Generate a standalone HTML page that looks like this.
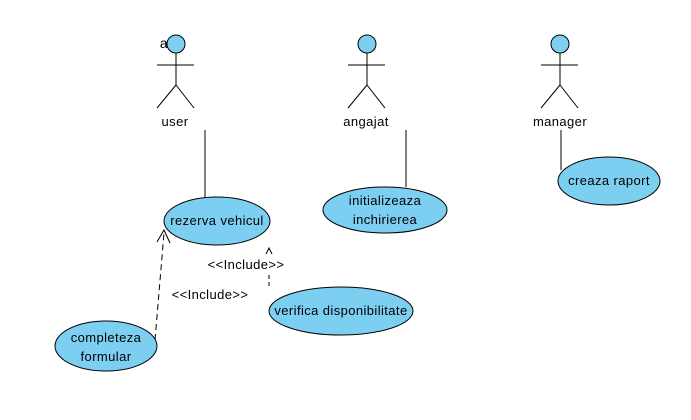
<!DOCTYPE html><html><head><style>body{margin:0;background:#fff}</style></head><body>
<svg width="691" height="415" xmlns="http://www.w3.org/2000/svg" font-family="Liberation Sans, sans-serif" font-size="13" letter-spacing="0.4">
<rect width="691" height="415" fill="#fff"/>
<g stroke="#000" stroke-width="1" fill="none">
<g transform="translate(176,0)"><line x1="0" y1="53" x2="0" y2="85"/><line x1="-19" y1="65" x2="18" y2="65"/><line x1="0" y1="85" x2="-19" y2="108"/><line x1="0" y1="85" x2="18" y2="108"/></g>
<g transform="translate(367,0)"><line x1="0" y1="53" x2="0" y2="85"/><line x1="-19" y1="65" x2="18" y2="65"/><line x1="0" y1="85" x2="-19" y2="108"/><line x1="0" y1="85" x2="18" y2="108"/></g>
<g transform="translate(560,0)"><line x1="0" y1="53" x2="0" y2="85"/><line x1="-19" y1="65" x2="18" y2="65"/><line x1="0" y1="85" x2="-19" y2="108"/><line x1="0" y1="85" x2="18" y2="108"/></g>
<line x1="205" y1="130" x2="205" y2="198"/>
<line x1="406" y1="130" x2="406" y2="187"/>
<line x1="561" y1="130" x2="561" y2="170"/>
<line x1="155" y1="340" x2="164" y2="233" stroke-dasharray="6,4"/>
<polyline points="157,242 164,230 170,243"/>
<line x1="269" y1="275" x2="269" y2="286" stroke-dasharray="4,3"/>
<polyline points="266,254 269,248 272,254"/>
</g>
<g fill="#7ccff1" stroke="#000" stroke-width="1">
<circle cx="176" cy="44" r="9"/><circle cx="367" cy="44" r="9"/><circle cx="560" cy="44" r="9"/>
<ellipse cx="217" cy="221" rx="53" ry="24"/>
<ellipse cx="385" cy="210" rx="62" ry="23"/>
<ellipse cx="609" cy="181" rx="51" ry="24"/>
<ellipse cx="341" cy="311" rx="72" ry="24"/>
<ellipse cx="106" cy="346" rx="51" ry="25"/>
</g>
<g fill="#000" text-anchor="middle">
<text x="164" y="48" font-size="14">a</text>
<text x="175" y="126">user</text>
<text x="366" y="126">angajat</text>
<text x="560" y="126">manager</text>
<text x="217" y="225">rezerva vehicul</text>
<text x="385" y="205">initializeaza</text>
<text x="385" y="224">inchirierea</text>
<text x="609" y="185">creaza raport</text>
<text x="341" y="315">verifica disponibilitate</text>
<text x="106" y="342">completeza</text>
<text x="106" y="361">formular</text>
<text x="246" y="269">&lt;&lt;Include&gt;&gt;</text>
<text x="210" y="299">&lt;&lt;Include&gt;&gt;</text>
</g>
</svg></body></html>
